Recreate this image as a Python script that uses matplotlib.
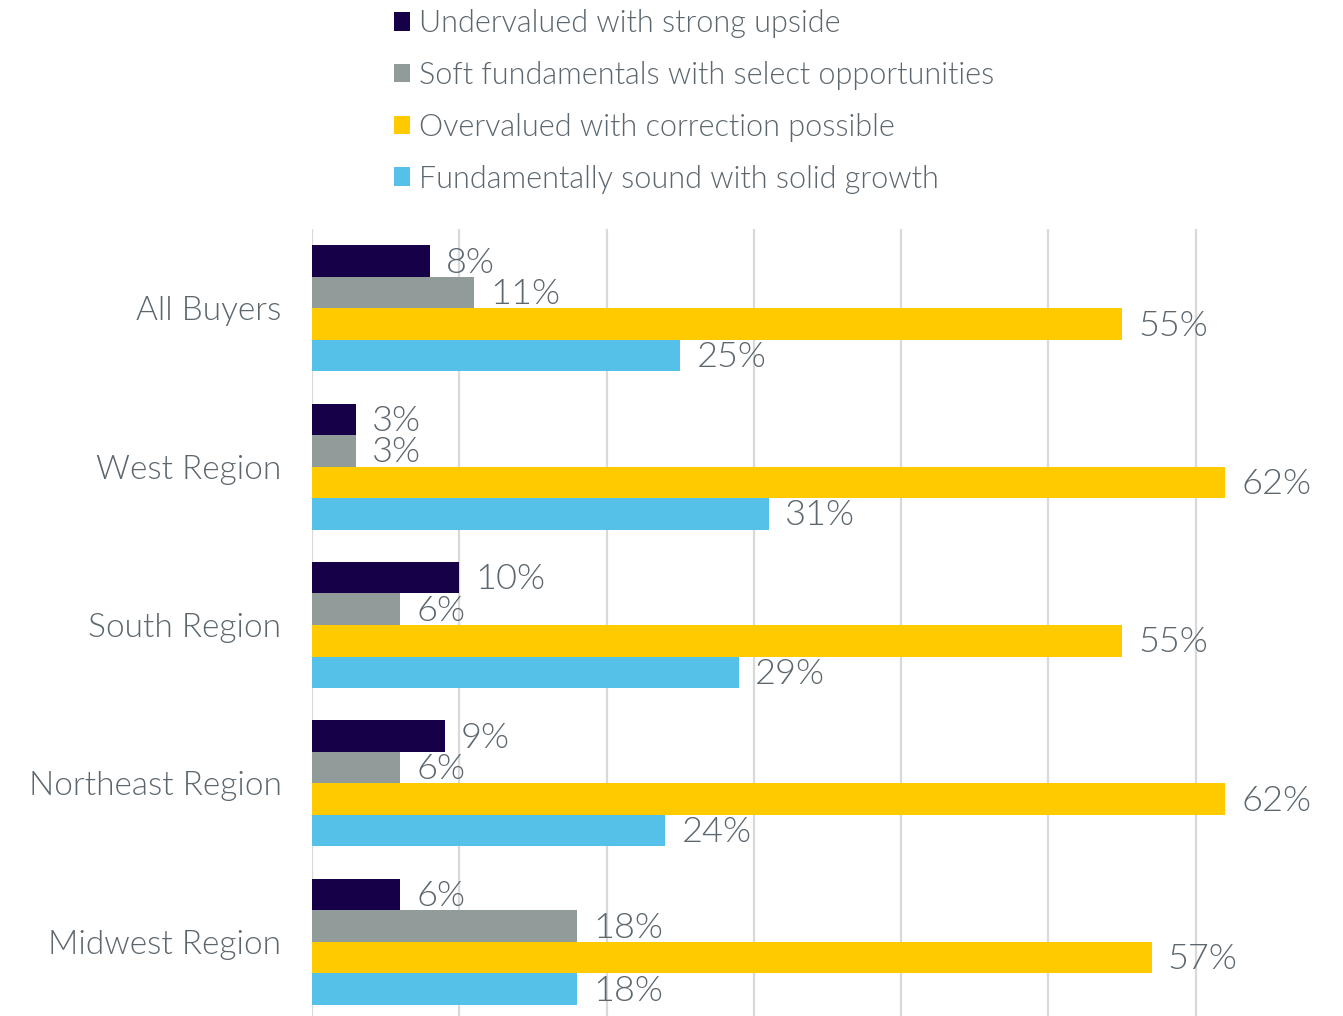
import numpy as np
import matplotlib.pyplot as plt

regions = ["All Buyers", "West Region", "South Region", "Northeast Region", "Midwest Region"]
series_names = [
    "Undervalued with strong upside",
    "Soft fundamentals with select opportunities",
    "Overvalued with correction possible",
    "Fundamentally sound with solid growth",
]
undervalued = [8, 3, 10, 9, 6]
soft = [11, 3, 6, 6, 18]
overvalued = [55, 62, 55, 62, 57]
sound = [25, 31, 29, 24, 18]

colors = ["#160047", "#919b9a", "#ffcb00", "#56c1e8"]
text_grey = "#5b666e"
plt.rcParams["font.family"] = ["Lato", "DejaVu Sans"]
weight = 300

fig = plt.figure(figsize=(13.43, 10.16), dpi=100)
ax = fig.add_axes([312 / 1343, -5 / 1016, 1031 / 1343, 792 / 1016])

y = np.arange(len(regions))
h = 0.199
for i, (vals, c, name) in enumerate(zip([undervalued, soft, overvalued, sound], colors, series_names)):
    pos = y + (i - 1.5) * h
    ax.barh(pos, vals, height=h, color=c, label=name, zorder=3)
    for p, v in zip(pos, vals):
        ax.text(v + 1.1, p + 0.01, f"{v}%", va="center", ha="left", fontsize=26,
                color=text_grey, fontweight=weight, zorder=4)

ax.set_xlim(0, 70)
ax.set_ylim(len(regions) - 0.5, -0.5)
ax.set_xticks(np.arange(0, 70, 10))
ax.xaxis.grid(True, color="#d9d9d9", linewidth=1.6, zorder=0)
ax.tick_params(axis="x", length=0, labelbottom=False)
ax.tick_params(axis="y", length=0, pad=22)
ax.set_yticks(y)
ax.set_yticklabels(regions, fontsize=24, color=text_grey, fontweight=weight)
for s in ax.spines.values():
    s.set_visible(False)

handles, labels = ax.get_legend_handles_labels()
leg = fig.legend(handles, labels, loc="upper left", bbox_to_anchor=(366 / 1343, 1.018),
                 frameon=False, fontsize=22, handlelength=0.55, handleheight=0.55,
                 handletextpad=0.3, labelspacing=0.745)
for t in leg.get_texts():
    t.set_color(text_grey)
    t.set_fontweight(weight)

fig.savefig("out.png", dpi=100)
